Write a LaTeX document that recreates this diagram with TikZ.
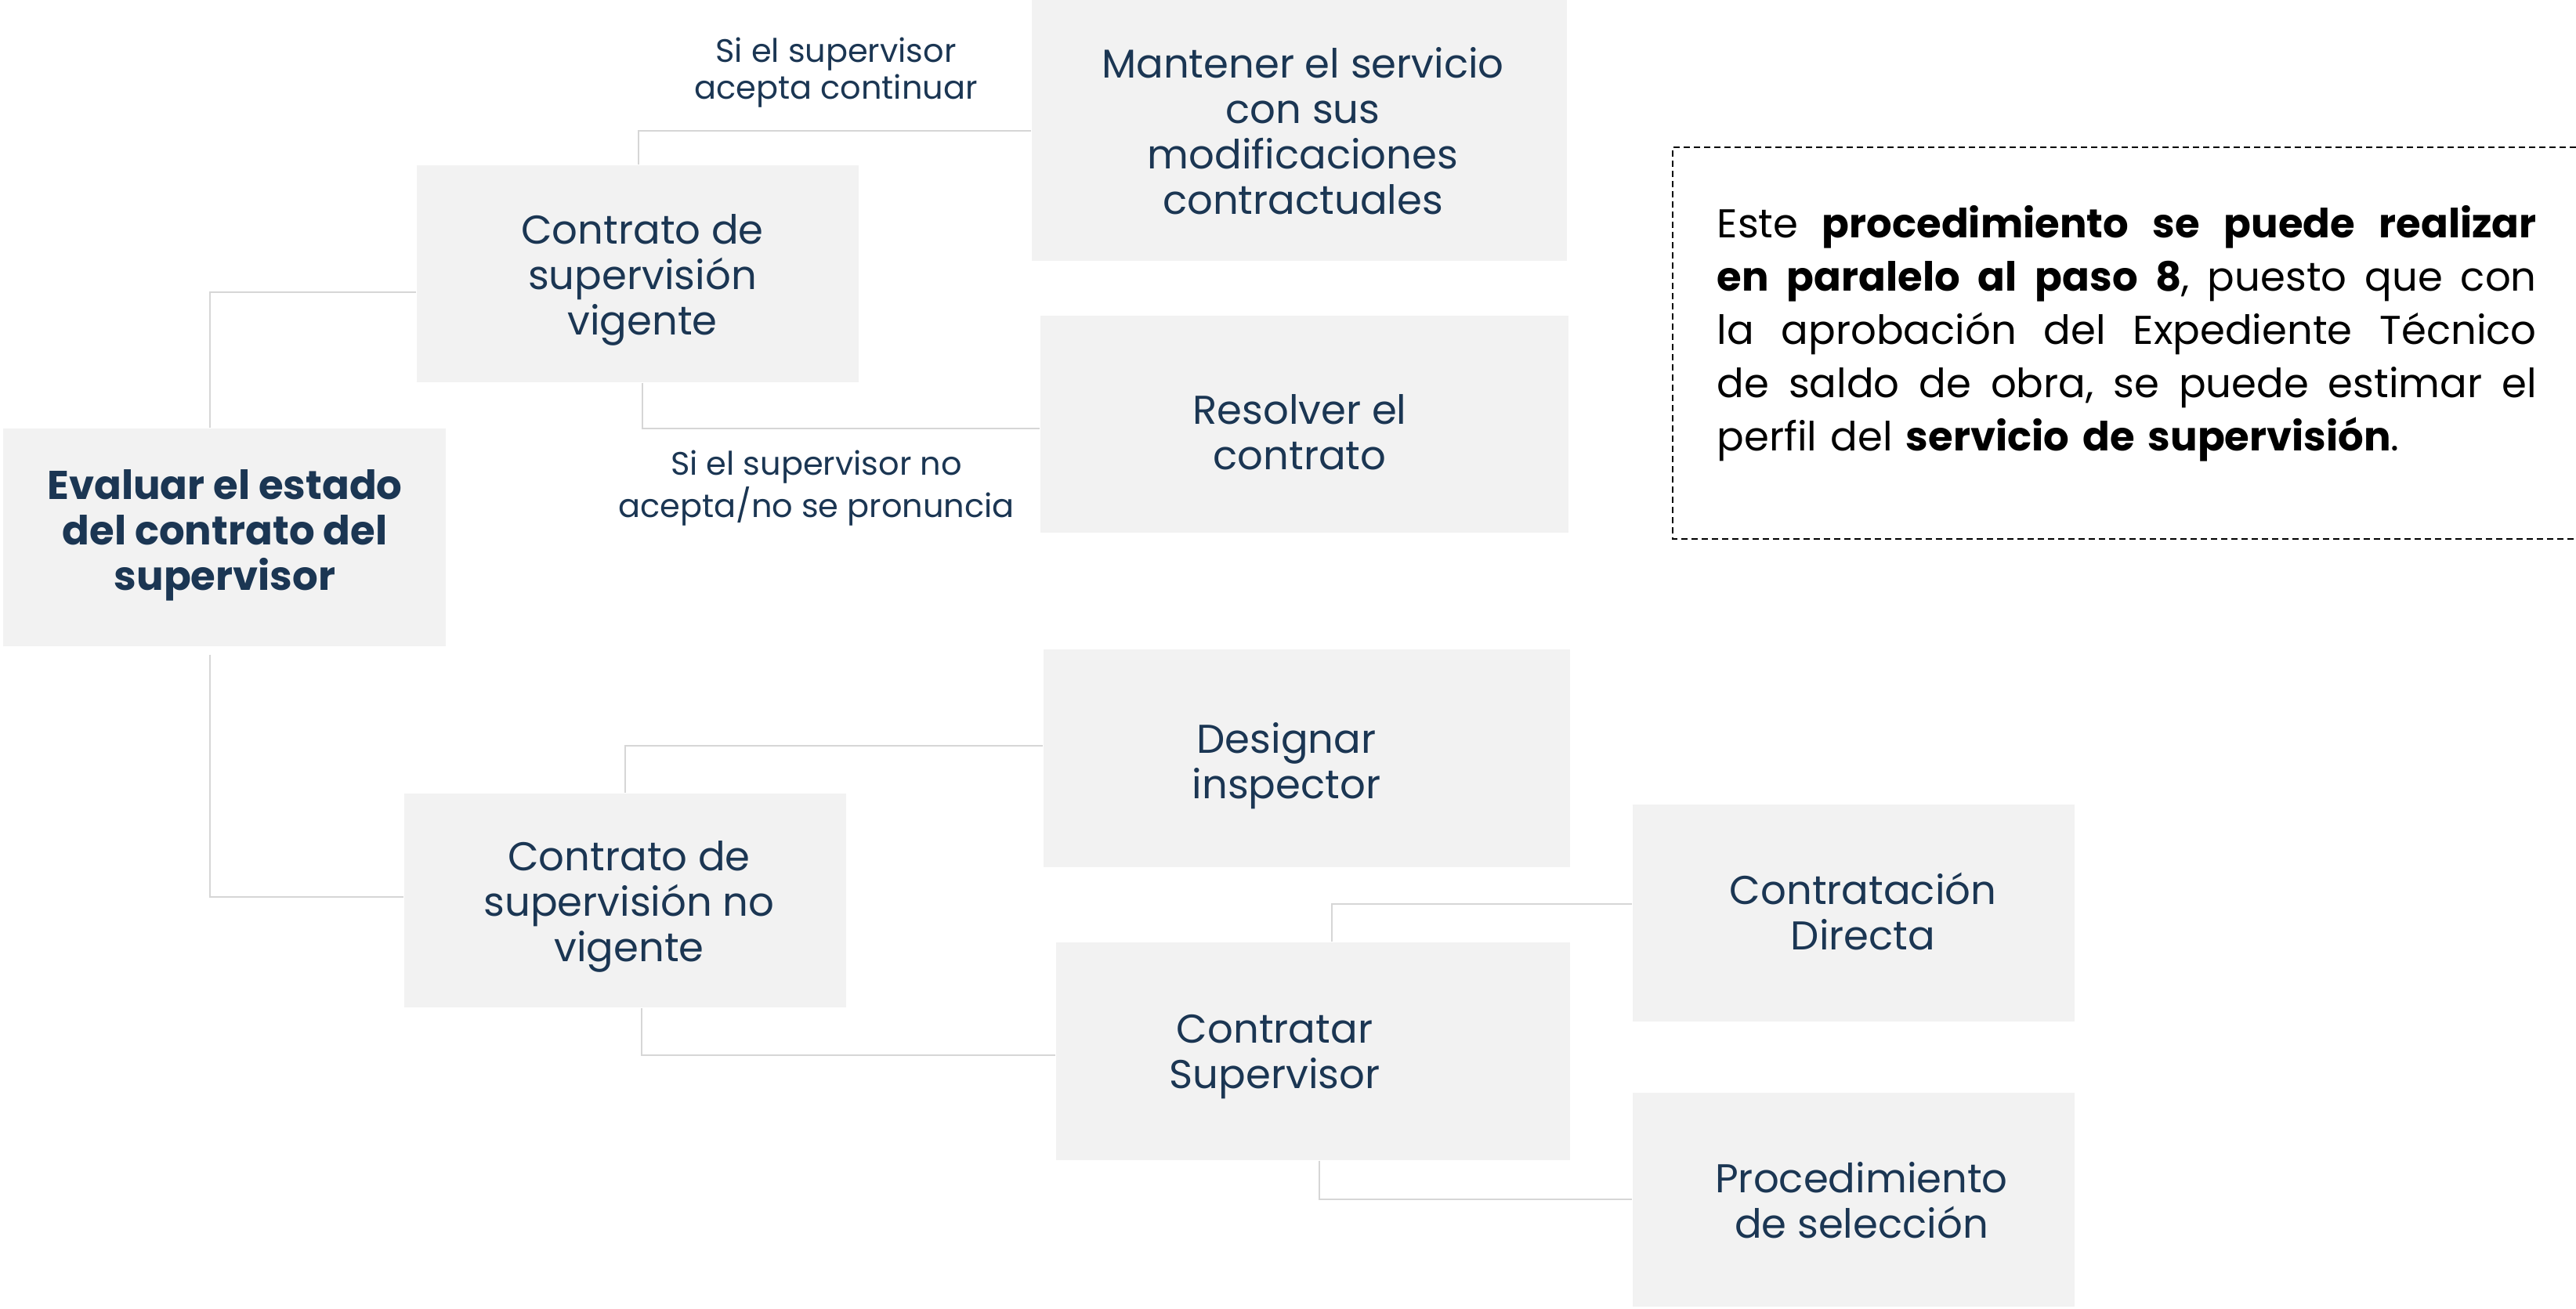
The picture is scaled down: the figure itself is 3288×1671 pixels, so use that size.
\documentclass[tikz,border=0pt]{standalone}
\usepackage{fontspec}
\setmainfont{Poppins}
\usetikzlibrary{fit,calc}
\definecolor{navy}{RGB}{27,54,83}
\definecolor{boxfill}{RGB}{242,242,242}
\definecolor{connc}{RGB}{214,214,214}
\tikzset{
  box/.style={fill=boxfill, draw=none, inner sep=0pt, rectangle},
  boxtext/.style={text=navy, align=center, inner sep=0pt, font=\fontsize{14.6pt}{16.5pt}\selectfont},
  boldtext/.style={boxtext, font=\fontsize{14.6pt}{16.5pt}\selectfont\bfseries},
  lbl/.style={text=navy, align=center, inner sep=0pt, font=\fontsize{11.8pt}{13.4pt}\selectfont},
  conn/.style={draw=connc, line width=0.6pt},
  notebox/.style={draw=black, line width=0.7pt, dash pattern=on 0.8mm off 0.5mm},
  notetext/.style={text=black, align=left, text width=104.6mm, inner sep=0pt, font=\fontsize{14.6pt}{19.3pt}\selectfont}
}
\newcommand{\jline}[1]{\leavevmode\hbox to 104.6mm{#1}}
\newcommand{\gp}{\hskip 0.25em plus 1fil\relax}
\begin{document}
\begin{tikzpicture}[x=0.1mm, y=-0.1mm]
\useasboundingbox (0,0) rectangle (3288,1671);
% boxes
\node[box, fit={(4,547) (569,825)}] (ev) {};
\node[box, fit={(532,211) (1096,488)}] (vg) {};
\node[box, fit={(1317,0) (2000,333)}] (mt) {};
\node[box, fit={(1328,403) (2002,680)}] (rs) {};
\node[box, fit={(516,1013) (1080,1286)}] (nv) {};
\node[box, fit={(1332,829) (2004,1107)}] (ds) {};
\node[box, fit={(1348,1203) (2004,1481)}] (cs) {};
\node[box, fit={(2084,1027) (2648,1304)}] (cd) {};
\node[box, fit={(2084,1395) (2648,1668)}] (pr) {};
% texts
\node[boldtext] (ev-t) at (287,683) {Evaluar el estado\\del contrato del\\supervisor};
\node[boxtext] (vg-t) at (820,357) {Contrato de\\supervisión\\vigente};
\node[boxtext] (mt-t) at (1663,167) {Mantener el servicio\\con sus\\modificaciones\\contractuales};
\node[boxtext] (rs-t) at (1659,552) {Resolver el\\contrato};
\node[boxtext] (nv-t) at (803,1157) {Contrato de\\supervisión no\\vigente};
\node[boxtext] (ds-t) at (1642,978) {Designar\\inspector};
\node[boxtext] (cs-t) at (1627,1349) {Contratar\\Supervisor};
\node[boxtext] (cd-t) at (2378,1163) {Contratación\\Directa};
\node[boxtext] (pr-t) at (2376,1532) {Procedimiento\\de selección};
% labels
\node[lbl] (l1) at (1067,93) {Si el supervisor\\acepta continuar};
\node[lbl] (l2) at (1042,623) {Si el supervisor no\\acepta/no se pronuncia};
% elbows
\coordinate (e1) at (268,373);
\coordinate (e2) at (268,1145);
\coordinate (e3) at (815,167);
\coordinate (e4) at (820,547);
\coordinate (e5) at (798,952);
\coordinate (e6) at (819,1347);
\coordinate (e7) at (1700,1154);
\coordinate (e8) at (1684,1531);
% connectors
\draw[conn] (e1 |- ev.north) -- (e1) -- (e1 -| vg.west);
\draw[conn] ([yshift=-1mm]e2 |- ev.south) -- (e2) -- (e2 -| nv.west);
\draw[conn] (e3 |- vg.north) -- (e3) -- (e3 -| mt.west);
\draw[conn] (e4 |- vg.south) -- (e4) -- (e4 -| rs.west);
\draw[conn] (e5 |- nv.north) -- (e5) -- (e5 -| ds.west);
\draw[conn] (e6 |- nv.south) -- (e6) -- (e6 -| cs.west);
\draw[conn] (e7 |- cs.north) -- (e7) -- (e7 -| cd.west);
\draw[conn] (e8 |- cs.south) -- (e8) -- (e8 -| pr.west);
% note
\coordinate (n1) at (3288,188);
\coordinate (n2) at (2135,188);
\coordinate (n3) at (2135,688);
\coordinate (n4) at (3288,688);
\draw[notebox] (n1) -- (n2) -- (n3) -- (n4);
\node[notetext, anchor=north west] (note) at (2191,262) {\jline{Este\gp\textbf{procedimiento}\gp\textbf{se}\gp\textbf{puede}\gp\textbf{realizar}}\\
\jline{\textbf{en}\gp\textbf{paralelo}\gp\textbf{al}\gp\textbf{paso}\gp\textbf{8},\gp puesto\gp que\gp con}\\
\jline{la\gp aprobación\gp del\gp Expediente\gp Técnico}\\
\jline{de\gp saldo\gp de\gp obra,\gp se\gp puede\gp estimar\gp el}\\
perfil del \textbf{servicio de supervisión}.};
\end{tikzpicture}
\end{document}
